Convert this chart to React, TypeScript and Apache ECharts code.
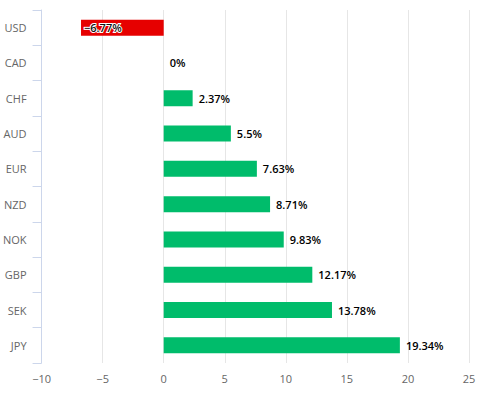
import React, { useEffect, useRef } from "react";
import * as echarts from "echarts";

const categories = ["USD", "CAD", "CHF", "AUD", "EUR", "NZD", "NOK", "GBP", "SEK", "JPY"];
const values = [-6.77, 0, 2.37, 5.5, 7.63, 8.71, 9.83, 12.17, 13.78, 19.34];
const xMin = -10;
const xMax = 25;
const xInterval = 5;

const GREEN = "#00bc6b";
const RED = "#e60000";

export default function App() {
  const ref = useRef<HTMLDivElement>(null);
  useEffect(() => {
    document.body.style.margin = "0";
    if (!ref.current) return;
    const chart = echarts.init(ref.current, undefined, { renderer: "svg" });
    const data = values.map((v) => {
      if (v < 0) {
        return {
          value: v,
          itemStyle: { color: RED },
          label: {
            position: "insideLeft",
            distance: 3,
            color: "#111",
            textBorderColor: "#fff",
            textBorderWidth: 2,
          },
        };
      }
      return { value: v, itemStyle: { color: GREEN } };
    });
    chart.setOption({
      animation: false,
      grid: { left: 39.5, right: 35, top: 10, bottom: 33, containLabel: false },
      xAxis: {
        type: "value",
        min: xMin,
        max: xMax,
        interval: xInterval,
        axisLine: { show: false },
        axisTick: { show: false },
        axisLabel: {
          color: "#666",
          fontFamily: "Open Sans",
          fontSize: 11,
          margin: 10,
          formatter: (v: number) => (v < 0 ? "\u2212" + Math.abs(v) : String(v)),
        },
        splitLine: { show: true, lineStyle: { color: "#e6e6e6", width: 1 } },
      },
      yAxis: {
        type: "category",
        data: categories,
        inverse: true,
        axisLine: { show: true, onZero: false, lineStyle: { color: "#ccd6eb", width: 1 } },
        axisTick: { show: true, length: 9, lineStyle: { color: "#ccd6eb" } },
        axisLabel: { color: "#666", fontFamily: "Open Sans", fontSize: 11, margin: 15 },
        splitLine: { show: false },
      },
      series: [
        {
          type: "bar",
          data,
          barWidth: 16,
          label: {
            show: true,
            position: "right",
            distance: 6,
            color: "#000",
            fontFamily: "Open Sans",
            fontSize: 11,
            fontWeight: 600,
            formatter: (p: any) => {
              const v = p.value as number;
              return (v < 0 ? "\u2212" + Math.abs(v) : String(v)) + "%";
            },
          },
        },
      ],
    });
    return () => chart.dispose();
  }, []);
  return <div ref={ref} style={{ width: 504, height: 396 }} />;
}
